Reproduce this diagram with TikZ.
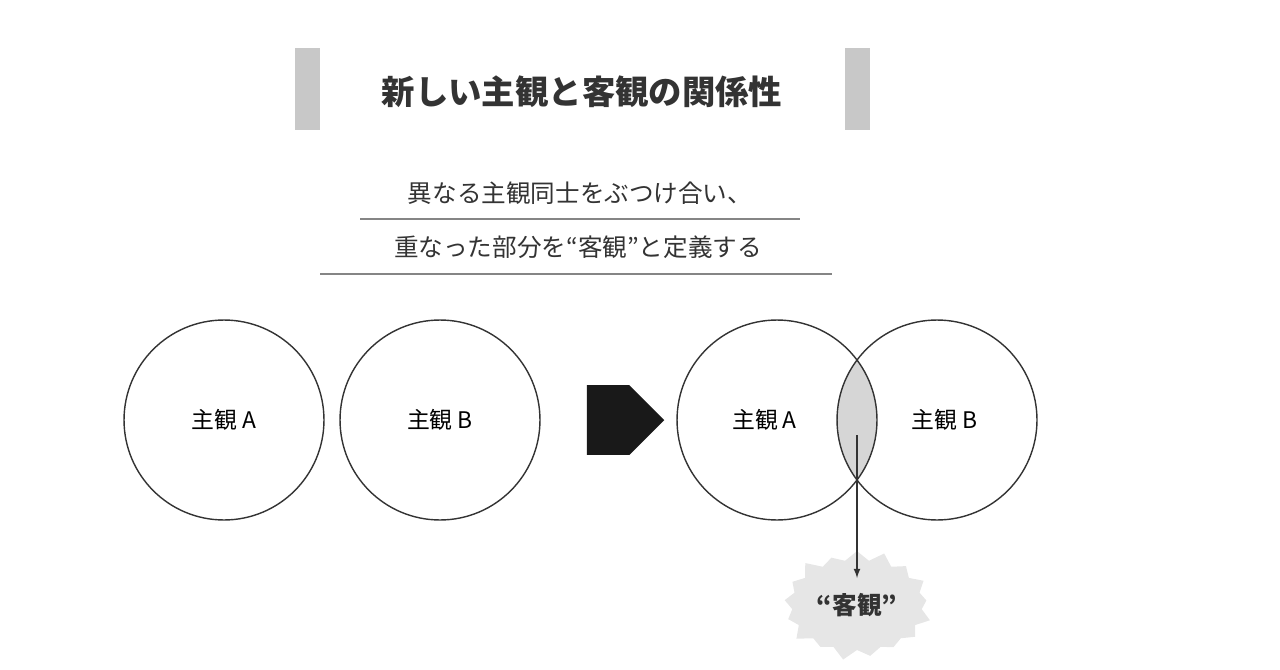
\documentclass[tikz,border=0pt]{standalone}
\usepackage{fontspec}
\setmainfont{Noto Sans CJK JP}
\usetikzlibrary{shapes.symbols, shapes.arrows}
\definecolor{mbar}{HTML}{C8C8C8}
\definecolor{mline}{HTML}{333333}
\definecolor{mfill}{HTML}{D6D6D6}
\definecolor{mstar}{HTML}{E6E6E6}
\tikzstyle{bar} = [fill = mbar, draw = none]
\tikzstyle{view} = [circle, draw = mline, thick, minimum size = 4cm, font = \fontsize{13}{15}\selectfont]
\tikzstyle{rule} = [draw = mline!60, thick]
\tikzstyle{caption} = [font = \fontsize{14}{16}\selectfont, text = mline]

\begin{document}
\begin{tikzpicture}[x = 0.02cm, y = -0.02cm]
  \useasboundingbox (0,0) rectangle (1280,669);
  % title
  \fill [bar] (295,48) rectangle (320,130);
  \fill [bar] (845,48) rectangle (870,130);
  \node (title) at (582,92) [font = \bfseries\fontsize{19}{22}\selectfont, text = mline] {新しい主観と客観の関係性};
  % subtitle
  \node (sub1) at (580,193) [caption] {異なる主観同士をぶつけ合い、};
  \node (sub2) at (578,247) [caption] {重なった部分を“客観”と定義する};
  \draw [rule] (360,219) -- (800,219);
  \draw [rule] (320,274) -- (832,274);
  % before
  \node (a1) at (224,420) [view] {主観 A};
  \node (b1) at (440,420) [view] {主観 B};
  \node (go) at (608,420) [single arrow, fill = black!90, minimum height = 1.55cm, minimum width = 1.4cm, single arrow head extend = 0cm, inner sep = 0pt] {};
  % after
  \begin{scope}
    \clip (777,420) circle (100);
    \fill [mfill] (937,420) circle (100);
  \end{scope}
  \node (a2) at (777,420) [view] {\hspace*{-0.5cm}主観 A};
  \node (b2) at (937,420) [view] {\hspace*{0.3cm}主観 B};
  \coordinate (mid) at (857,435);
  \coordinate (tip) at (857,578);
  \node (obj) at (857,605) [starburst, starburst points = 17, starburst point height = 0.25cm, fill = mstar, minimum width = 2.9cm, minimum height = 2.3cm, font = \bfseries\fontsize{14}{16}\selectfont, text = mline] {“客観”};
  \draw [thick, ->, >=latex, mline] (mid) -- (tip);
\end{tikzpicture}
\end{document}
